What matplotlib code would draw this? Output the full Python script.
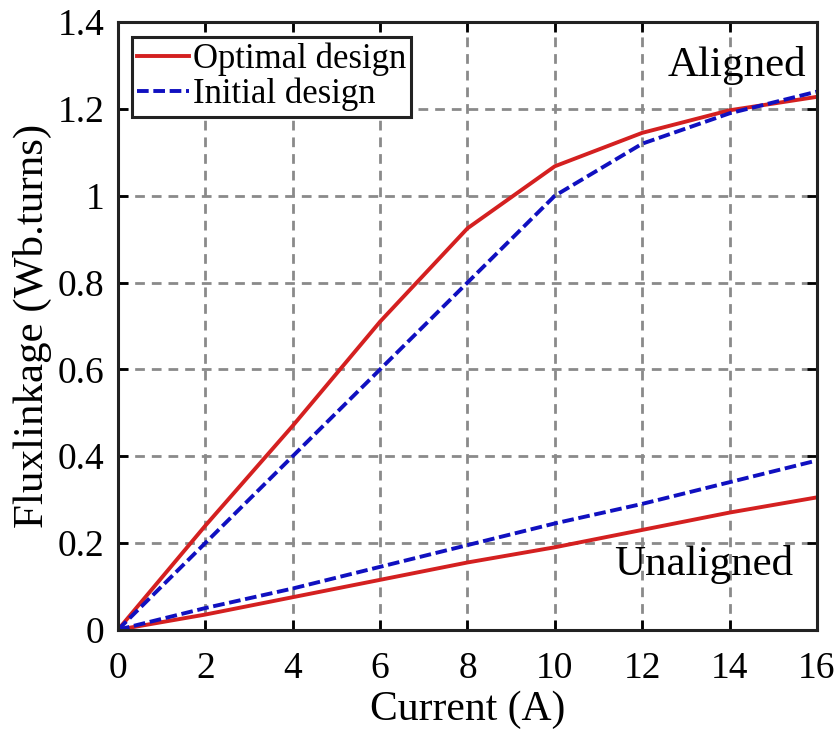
import matplotlib
matplotlib.use('Agg')
from matplotlib import pyplot as plt, rcParams

rcParams['font.family'] = ['Liberation Serif', 'DejaVu Serif']
rcParams['axes.unicode_minus'] = False

# 자료
current = [0, 2, 4, 6, 8, 10, 12, 14, 16]
opt_aligned = [0, 0.24, 0.47, 0.71, 0.925, 1.068, 1.145, 1.197, 1.228]
init_aligned = [0, 0.20, 0.40, 0.60, 0.80, 1.00, 1.12, 1.19, 1.24]
opt_unaligned = [0, 0.035, 0.075, 0.115, 0.155, 0.19, 0.23, 0.27, 0.305]
init_unaligned = [0, 0.05, 0.095, 0.145, 0.195, 0.245, 0.29, 0.34, 0.39]

xticks = [0, 2, 4, 6, 8, 10, 12, 14, 16]
yticks = [0, 0.2, 0.4, 0.6, 0.8, 1.0, 1.2, 1.4]
ytick_labels = ['0', '0.2', '0.4', '0.6', '0.8', '1', '1.2', '1.4']

fig = plt.figure(figsize=(8.4, 7.4), dpi=100)
ax = fig.add_axes([0.1405, 0.149, 0.832, 0.821])

red = '#d42020'
blue = '#1010c0'
dash = (0, (3.0, 1.2))
ax.plot(current, opt_aligned, color=red, lw=2.8, label='Optimal design')
ax.plot(current, init_aligned, color=blue, lw=2.8, ls=dash, label='Initial design')
ax.plot(current, opt_unaligned, color=red, lw=2.8)
ax.plot(current, init_unaligned, color=blue, lw=2.8, ls=dash)

ax.set_xlim(0, 16)
ax.set_ylim(0, 1.4)
ax.set_xticks(xticks)
ax.set_yticks(yticks)
ax.set_yticklabels(ytick_labels)
ax.tick_params(direction='in', length=7, width=2, labelsize=27, top=True, right=True)
ax.tick_params(axis='x', pad=16)
ax.tick_params(axis='y', pad=10)
ax.grid(True, color='#8a8a8a', ls=(0, (3.5, 2.5)), lw=2)
for s in ax.spines.values():
    s.set_linewidth(2.2)
    s.set_color('#222222')

ax.set_xlabel('Current (A)', fontsize=30, labelpad=3)
ax.set_ylabel('Fluxlinkage (Wb.turns)', fontsize=31, labelpad=4)

ax.text(15.75, 1.30, 'Aligned', fontsize=31, ha='right', va='center')
ax.text(15.45, 0.15, 'Unaligned', fontsize=31, ha='right', va='center')

leg = ax.legend(loc='upper left', bbox_to_anchor=(0.02, 0.975), borderaxespad=0,
                fontsize=25, frameon=True, fancybox=False,
                edgecolor='#222222', framealpha=1, handlelength=1.5, handletextpad=0.1,
                borderpad=0.15, labelspacing=0.05)
leg.get_frame().set_linewidth(2.2)

fig.savefig('out.png', dpi=100)
